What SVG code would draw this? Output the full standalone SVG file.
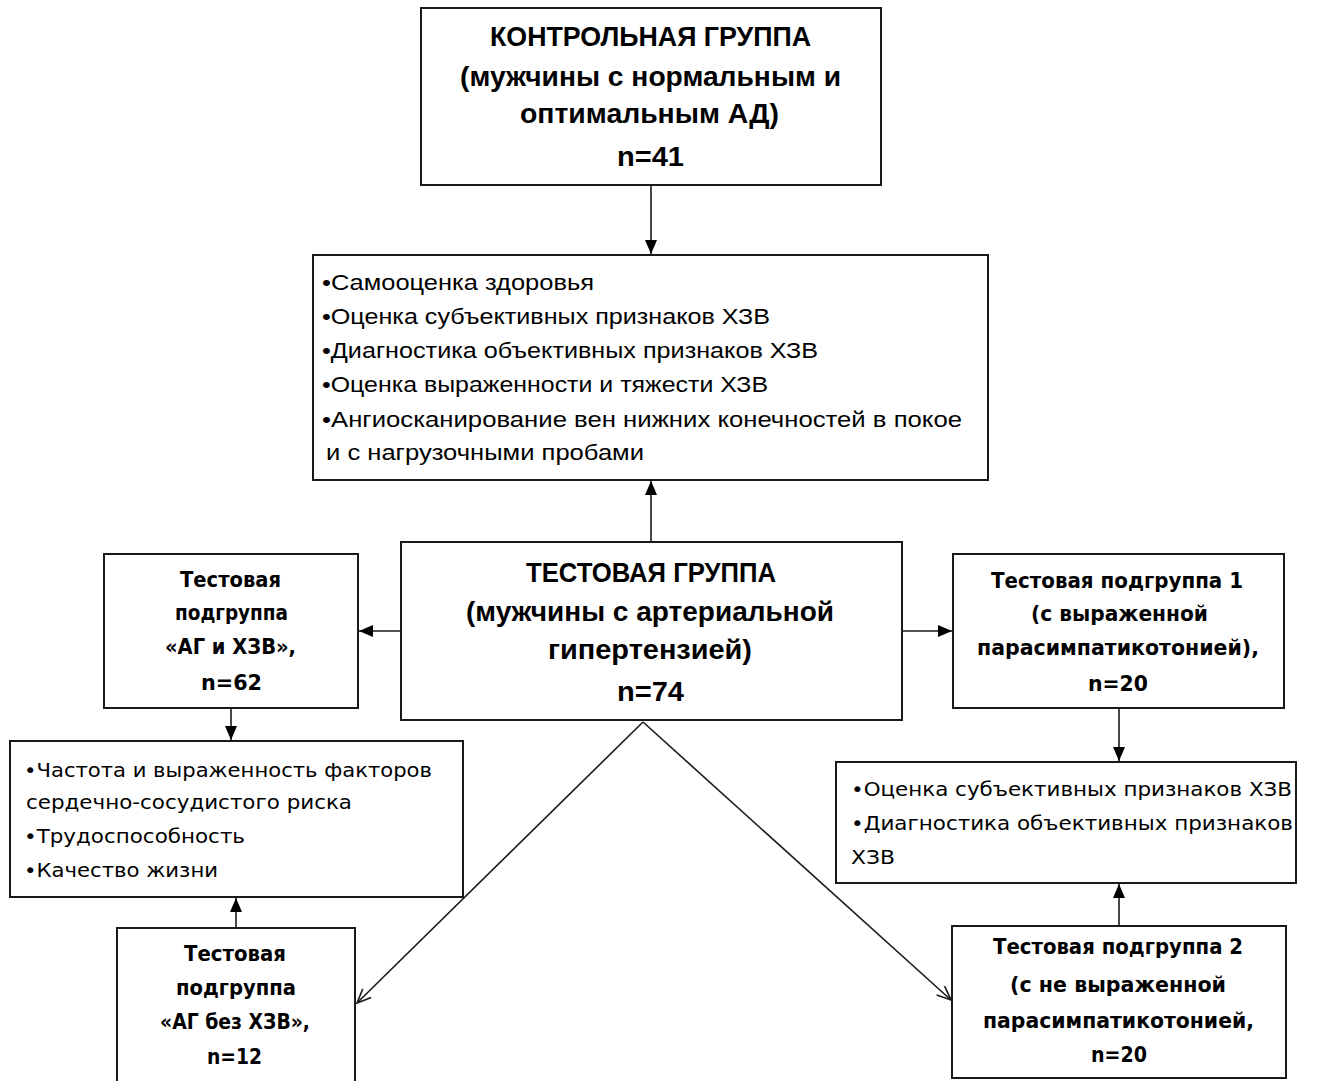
<svg xmlns="http://www.w3.org/2000/svg" width="1327" height="1081" viewBox="0 0 1327 1081">
<style>
.box{fill:#fff;stroke:#1a1a1a;stroke-width:2}
.c{fill:none;stroke:#1a1a1a;stroke-width:1.6}
.h{font-family:"Liberation Sans",Arial,sans-serif;font-weight:bold;font-size:27px;fill:#000}
.l{font-family:"Liberation Sans",Arial,sans-serif;font-size:21.5px;fill:#000}
.t{font-family:"DejaVu Sans",Verdana,sans-serif;font-weight:bold;font-size:21px;fill:#000}
.r{font-family:"DejaVu Sans",Verdana,sans-serif;font-size:20px;fill:#000}
</style>
<defs>
<marker id="fa" viewBox="0 0 14 12" refX="14" refY="6" markerWidth="14" markerHeight="12" markerUnits="userSpaceOnUse" orient="auto">
<path d="M0,0 L14,6 L0,12 Z" fill="#000"/>
</marker>
<marker id="oa" viewBox="0 0 16 14" refX="15" refY="7" markerWidth="16" markerHeight="14" markerUnits="userSpaceOnUse" orient="auto">
<path d="M1,1 L15,7 L1,13" fill="none" stroke="#1a1a1a" stroke-width="1.6"/>
</marker>
</defs>
<rect x="0" y="0" width="1327" height="1081" fill="#fff"/>

<g id="connectors">
<line class="c" x1="651" y1="185" x2="651" y2="254" marker-end="url(#fa)"/>
<line class="c" x1="651" y1="542" x2="651" y2="481" marker-end="url(#fa)"/>
<line class="c" x1="401" y1="631" x2="359" y2="631" marker-end="url(#fa)"/>
<line class="c" x1="902" y1="631" x2="952" y2="631" marker-end="url(#fa)"/>
<line class="c" x1="231" y1="708" x2="231" y2="740" marker-end="url(#fa)"/>
<line class="c" x1="236" y1="928" x2="236" y2="898" marker-end="url(#fa)"/>
<line class="c" x1="1119" y1="708" x2="1119" y2="761" marker-end="url(#fa)"/>
<line class="c" x1="1119" y1="926" x2="1119" y2="884" marker-end="url(#fa)"/>
<line class="c" x1="643" y1="722" x2="357" y2="1003" marker-end="url(#oa)"/>
<line class="c" x1="643" y1="722" x2="951" y2="1000" marker-end="url(#oa)"/>
</g>

<g id="control">
<rect class="box" x="421" y="8" width="460" height="177"/>
<text class="h" x="490" y="46" textLength="321" lengthAdjust="spacingAndGlyphs">КОНТРОЛЬНАЯ ГРУППА</text>
<text class="h" x="460" y="86" textLength="381" lengthAdjust="spacingAndGlyphs">(мужчины с нормальным и</text>
<text class="h" x="520" y="123" textLength="259" lengthAdjust="spacingAndGlyphs">оптимальным АД)</text>
<text class="h" x="617" y="166" textLength="67" lengthAdjust="spacingAndGlyphs">n=41</text>
</g>

<g id="methods">
<rect class="box" x="313" y="255" width="675" height="225"/>
<text class="l" x="322" y="290" textLength="272" lengthAdjust="spacingAndGlyphs">•Самооценка здоровья</text>
<text class="l" x="322" y="324" textLength="448" lengthAdjust="spacingAndGlyphs">•Оценка субъективных признаков ХЗВ</text>
<text class="l" x="322" y="358" textLength="496" lengthAdjust="spacingAndGlyphs">•Диагностика объективных признаков ХЗВ</text>
<text class="l" x="322" y="392" textLength="446" lengthAdjust="spacingAndGlyphs">•Оценка выраженности и тяжести ХЗВ</text>
<text class="l" x="322" y="427" textLength="640" lengthAdjust="spacingAndGlyphs">•Ангиосканирование вен нижних конечностей в покое</text>
<text class="l" x="326" y="460" textLength="318" lengthAdjust="spacingAndGlyphs">и с нагрузочными пробами</text>
</g>

<g id="test">
<rect class="box" x="401" y="542" width="501" height="178"/>
<text class="h" x="526" y="582" textLength="250" lengthAdjust="spacingAndGlyphs">ТЕСТОВАЯ ГРУППА</text>
<text class="h" x="466" y="621" textLength="368" lengthAdjust="spacingAndGlyphs">(мужчины с артериальной</text>
<text class="h" x="548" y="659" textLength="204" lengthAdjust="spacingAndGlyphs">гипертензией)</text>
<text class="h" x="617" y="701" textLength="67" lengthAdjust="spacingAndGlyphs">n=74</text>
</g>

<g id="sub-ag-hzv">
<rect class="box" x="104" y="554" width="254" height="154"/>
<text class="t" x="180" y="587" textLength="101" lengthAdjust="spacingAndGlyphs">Тестовая</text>
<text class="t" x="175" y="620" textLength="113" lengthAdjust="spacingAndGlyphs">подгруппа</text>
<text class="t" x="165" y="654" textLength="131" lengthAdjust="spacingAndGlyphs">«АГ и ХЗВ»,</text>
<text class="t" x="201" y="690" textLength="61" lengthAdjust="spacingAndGlyphs">n=62</text>
</g>

<g id="factors">
<rect class="box" x="10" y="741" width="453" height="156"/>
<text class="r" x="24" y="777" textLength="408" lengthAdjust="spacingAndGlyphs">•Частота и выраженность факторов</text>
<text class="r" x="26" y="809" textLength="326" lengthAdjust="spacingAndGlyphs">сердечно-сосудистого риска</text>
<text class="r" x="24" y="843" textLength="221" lengthAdjust="spacingAndGlyphs">•Трудоспособность</text>
<text class="r" x="24" y="877" textLength="194" lengthAdjust="spacingAndGlyphs">•Качество жизни</text>
</g>

<g id="sub-ag-no-hzv">
<rect class="box" x="117" y="928" width="238" height="165"/>
<text class="t" x="184" y="961" textLength="102" lengthAdjust="spacingAndGlyphs">Тестовая</text>
<text class="t" x="176" y="995" textLength="120" lengthAdjust="spacingAndGlyphs">подгруппа</text>
<text class="t" x="160" y="1029" textLength="150" lengthAdjust="spacingAndGlyphs">«АГ без ХЗВ»,</text>
<text class="t" x="207" y="1064" textLength="55" lengthAdjust="spacingAndGlyphs">n=12</text>
</g>

<g id="sub-1">
<rect class="box" x="953" y="554" width="331" height="154"/>
<text class="t" x="991" y="588" textLength="252" lengthAdjust="spacingAndGlyphs">Тестовая подгруппа 1</text>
<text class="t" x="1031" y="621" textLength="177" lengthAdjust="spacingAndGlyphs">(с выраженной</text>
<text class="t" x="977" y="655" textLength="282" lengthAdjust="spacingAndGlyphs">парасимпатикотонией),</text>
<text class="t" x="1088" y="691" textLength="60" lengthAdjust="spacingAndGlyphs">n=20</text>
</g>

<g id="signs">
<rect class="box" x="836" y="762" width="460" height="121"/>
<text class="r" x="851" y="796" textLength="441" lengthAdjust="spacingAndGlyphs">•Оценка субъективных признаков ХЗВ</text>
<text class="r" x="851" y="830" textLength="442" lengthAdjust="spacingAndGlyphs">•Диагностика объективных признаков</text>
<text class="r" x="851" y="864" textLength="44" lengthAdjust="spacingAndGlyphs">ХЗВ</text>
</g>

<g id="sub-2">
<rect class="box" x="952" y="926" width="334" height="152"/>
<text class="t" x="993" y="954" textLength="250" lengthAdjust="spacingAndGlyphs">Тестовая подгруппа 2</text>
<text class="t" x="1010" y="992" textLength="216" lengthAdjust="spacingAndGlyphs">(с не выраженной</text>
<text class="t" x="983" y="1028" textLength="271" lengthAdjust="spacingAndGlyphs">парасимпатикотонией,</text>
<text class="t" x="1091" y="1062" textLength="56" lengthAdjust="spacingAndGlyphs">n=20</text>
</g>
</svg>
